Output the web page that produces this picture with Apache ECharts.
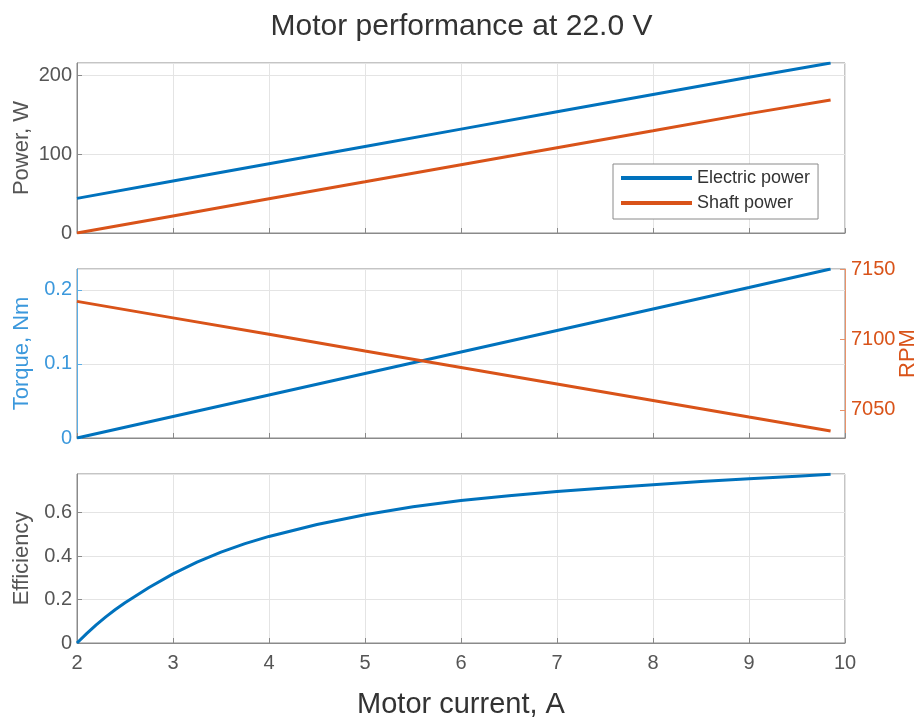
<!DOCTYPE html>
<html>
<head>
<meta charset="utf-8">
<script src="https://cdn.jsdelivr.net/npm/echarts@6/dist/echarts.min.js"></script>
<style>
  html, body { margin: 0; padding: 0; background: #fff; }
  #chart { width: 923px; height: 718px; }
</style>
</head>
<body>
<div id="chart"></div>
<script>
// motor current, A (straight lines read at whole amps)
var current = [2, 3, 4, 5, 6, 7, 8, 9, 9.85];
// power, W
var electricPower = [44, 66, 88, 110, 132, 154, 176, 198, 216];
var shaftPower = [0, 21.7, 43.4, 65, 86.7, 108.4, 130, 151.7, 169];
// torque, Nm and speed, RPM
var torque = [0, 0.029, 0.058, 0.087, 0.116, 0.145, 0.174, 0.203, 0.228];
var rpm = [7127, 7115.3, 7103.6, 7091.8, 7080.1, 7068.4, 7056.7, 7044.9, 7035];
// efficiency curve (denser near the start)
var effCurrent = [2.0, 2.1, 2.2, 2.3, 2.4, 2.5, 2.75, 3.0, 3.25, 3.5, 3.75, 4.0, 4.5, 5.0, 5.5, 6.0, 6.5, 7.0, 7.5, 8.0, 8.5, 9.0, 9.5, 9.85];
var efficiency = [0, 0.043, 0.083, 0.12, 0.154, 0.185, 0.255, 0.318, 0.372, 0.418, 0.457, 0.49, 0.545, 0.59, 0.626, 0.655, 0.677, 0.697, 0.713, 0.728, 0.742, 0.755, 0.767, 0.776];

function pairs(xs, ys) {
  return xs.map(function (x, i) { return [x, ys[i]]; });
}

var FONT = 'Liberation Sans';
var BLUE = '#0072BD';
var ORANGE = '#D95319';
var BOX = '#8a8a8a';
var GRIDLINE = '#e4e4e4';
var TEXT = '#555';

var grids = [
  { top: 63, height: 170 },
  { top: 269, height: 169 },
  { top: 474, height: 169 }
];

function xAxisFor(i, showLabels) {
  return {
    type: 'value', gridIndex: i, min: 2, max: 10, interval: 1,
    axisLine: { show: true, lineStyle: { color: BOX } },
    axisTick: { show: true, inside: true, length: 5, lineStyle: { color: BOX } },
    axisLabel: { show: showLabels, color: TEXT, fontFamily: FONT, fontSize: 20, margin: 10 },
    splitLine: { show: true, lineStyle: { color: GRIDLINE } },
    name: showLabels ? 'Motor current, A' : '',
    nameLocation: 'middle', nameGap: 47, nameMoveOverlap: false,
    nameTextStyle: { color: '#333', fontFamily: FONT, fontSize: 29 }
  };
}

function yAxisFor(i, opts) {
  var color = opts.color || BOX;
  var labelColor = opts.labelColor || TEXT;
  return {
    type: 'value', gridIndex: i, position: opts.position || 'left',
    min: opts.min, max: opts.max, interval: opts.interval,
    axisLine: { show: true, lineStyle: { color: color } },
    axisTick: { show: true, inside: true, length: 5, lineStyle: { color: color }, customValues: opts.custom },
    axisLabel: {
      color: labelColor, fontFamily: FONT, fontSize: 20, margin: opts.margin || 5,
      showMaxLabel: opts.showMax || false, customValues: opts.custom,
      formatter: function (v) { return String(v); }
    },
    splitLine: { show: opts.split !== false, lineStyle: { color: GRIDLINE } },
    name: opts.name, nameLocation: 'middle', nameGap: opts.nameGap || 44, nameRotate: 90,
    nameMoveOverlap: false,
    nameTextStyle: { color: labelColor, fontFamily: FONT, fontSize: 22 }
  };
}

var chart = echarts.init(document.getElementById('chart'), null, { renderer: 'canvas' });

var option = {
  backgroundColor: '#fff',
  animation: false,
  title: {
    text: 'Motor performance at 22.0 V', left: 'center', top: 7,
    textStyle: { color: '#333', fontFamily: FONT, fontSize: 30, fontWeight: 'normal' }
  },
  legend: {
    data: ['Electric power', 'Shaft power'],
    orient: 'vertical', left: 613, top: 164,
    itemWidth: 71, itemHeight: 4, itemGap: 7,
    padding: [5, 8, 7, 8],
    borderColor: BOX, borderWidth: 1, backgroundColor: '#fff',
    icon: 'rect',
    textStyle: { color: '#333', fontFamily: FONT, fontSize: 18 }
  },
  grid: grids.map(function (g) {
    return {
      left: 77, right: 78, top: g.top, height: g.height, show: true,
      borderColor: BOX, borderWidth: 1, backgroundColor: 'transparent',
      outerBoundsMode: 'none', containLabel: false
    };
  }),
  xAxis: [xAxisFor(0, false), xAxisFor(1, false), xAxisFor(2, true)],
  yAxis: [
    yAxisFor(0, { min: 0, max: 216, interval: 100, name: 'Power, W' }),
    yAxisFor(1, { min: 0, max: 0.228, interval: 0.1, name: 'Torque, Nm', color: '#5aaee6', labelColor: '#3b98dc' }),
    yAxisFor(1, { position: 'right', min: 7030, max: 7150, name: 'RPM', color: '#e8926a', labelColor: ORANGE, split: false, custom: [7050, 7100, 7150], showMax: true, nameGap: 52, margin: 6 }),
    yAxisFor(2, { min: 0, max: 0.777, interval: 0.2, name: 'Efficiency' })
  ],
  series: [
    { name: 'Electric power', type: 'line', xAxisIndex: 0, yAxisIndex: 0, data: pairs(current, electricPower), showSymbol: false, lineStyle: { color: BLUE, width: 3 }, itemStyle: { color: BLUE } },
    { name: 'Shaft power', type: 'line', xAxisIndex: 0, yAxisIndex: 0, data: pairs(current, shaftPower), showSymbol: false, lineStyle: { color: ORANGE, width: 3 }, itemStyle: { color: ORANGE } },
    { name: 'Torque', type: 'line', xAxisIndex: 1, yAxisIndex: 1, data: pairs(current, torque), showSymbol: false, lineStyle: { color: BLUE, width: 3 } },
    { name: 'RPM', type: 'line', xAxisIndex: 1, yAxisIndex: 2, data: pairs(current, rpm), showSymbol: false, lineStyle: { color: ORANGE, width: 3 } },
    { name: 'Efficiency', type: 'line', xAxisIndex: 2, yAxisIndex: 3, data: pairs(effCurrent, efficiency), showSymbol: false, lineStyle: { color: BLUE, width: 3, join: 'round' } }
  ]
};

chart.setOption(option);
</script>
</body>
</html>
